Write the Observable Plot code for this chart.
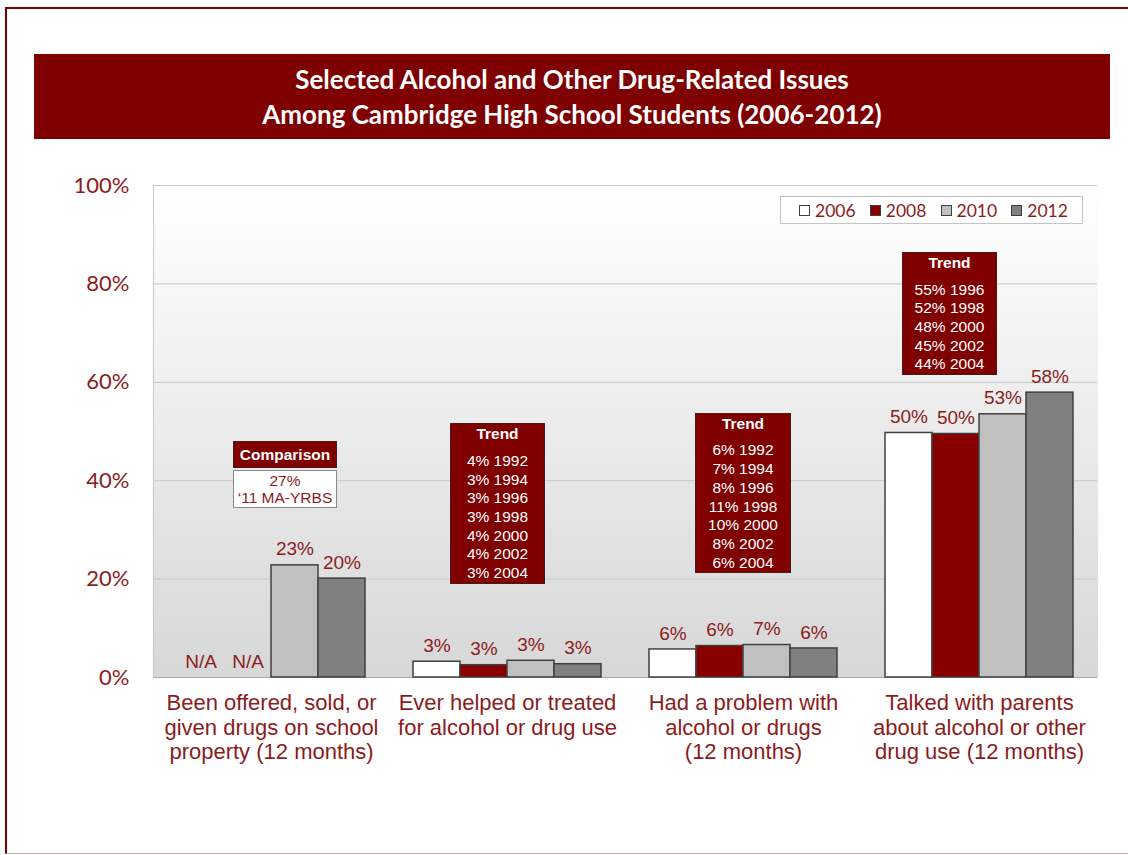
<!DOCTYPE html>
<html>
<head>
<meta charset="utf-8">
<script src="https://cdn.jsdelivr.net/npm/d3@7"></script>
<script src="https://cdn.jsdelivr.net/npm/@observablehq/plot@0.6"></script>
<style>
  html, body { margin: 0; padding: 0; background: #ffffff; }
  #page { position: relative; width: 1128px; height: 855px; overflow: hidden; background: #ffffff; }
  #frame { position: absolute; left: 5px; top: 7px; width: 1140px; height: 847px;
           border-left: 2px solid #7f0000; border-top: 2px solid #7f0000; border-bottom: 1px solid #e3a9a9; box-sizing: border-box; }
  #title { position: absolute; left: 34px; top: 54px; width: 1076px; height: 85px; background: #7f0000;
           color: #ffffff; font-family: Lato, "Open Sans", sans-serif; font-weight: 700; font-size: 26px;
           line-height: 35px; text-align: center; display: flex; flex-direction: column; justify-content: center; }
  #chart { position: absolute; left: 0; top: 165px; }
  #legend { position: absolute; left: 780px; top: 196px; width: 303px; height: 28px; box-sizing: border-box;
            background: #ffffff; border: 1px solid #c4c4c4; display: flex; align-items: center; padding-left: 18px; }
  .li { width: 72.7px; display: flex; align-items: center; font-family: Lato, sans-serif; font-size: 17.5px; color: #8c1c1c; }
  .sw { width: 11px; height: 11px; box-sizing: border-box; border: 1px solid #404040; margin-right: 5px; }
  .box { position: absolute; box-sizing: border-box; text-align: center; font-family: "Liberation Sans", Arial, sans-serif; font-size: 15.5px; }
  .trend { background: #800000; border: 1px solid #4a1a1a; color: #ffffff; line-height: 18.7px; padding: 1px 0 0 0; }
  .trend .hd { font-weight: 700; margin-bottom: 8px; }
  .cmpH { background: #800000; border: 1px solid #4a1a1a; color: #ffffff; font-weight: 700; line-height: 25px; }
  .cmpB { background: #ffffff; border: 1px solid #8a8a8a; color: #8c1c1c; line-height: 17px; padding-top: 1px; font-size: 15.5px; }
</style>
</head>
<body>
<div id="page">
  <div id="frame"></div>
  <div id="title"><div>Selected Alcohol and Other Drug-Related Issues</div><div>Among Cambridge High School Students (2006-2012)</div></div>
  <div id="chart"></div>
</div>
<script>
// ---------- data ----------
const groups = ["offered", "treated", "problem", "parents"];
const groupLabels = [
  "Been offered, sold, or\ngiven drugs on school\nproperty (12 months)",
  "Ever helped or treated\nfor alcohol or drug use",
  "Had a problem with\nalcohol or drugs\n(12 months)",
  "Talked with parents\nabout alcohol or other\ndrug use (12 months)"
];
const years = ["2006", "2008", "2010", "2012"];
const yearColors = ["#ffffff", "#880000", "#c0c0c0", "#808080"];

const values2006 = [null, 3.2, 5.7, 49.7];
const values2008 = [null, 2.5, 6.4, 49.5];
const values2010 = [22.8, 3.4, 6.6, 53.5];
const values2012 = [20.1, 2.7, 5.9, 57.9];

const labels2006 = ["N/A", "3%", "6%", "50%"];
const labels2008 = ["N/A", "3%", "6%", "50%"];
const labels2010 = ["23%", "3%", "7%", "53%"];
const labels2012 = ["20%", "3%", "6%", "58%"];

const yTicks = [0, 20, 40, 60, 80, 100];

// trend / comparison annotation texts
const comparisonLines = ["27%", "\u201811 MA-YRBS"];
const trendTreated = ["4% 1992", "3% 1994", "3% 1996", "3% 1998", "4% 2000", "4% 2002", "3% 2004"];
const trendProblem = ["6% 1992", "7% 1994", "8% 1996", "11% 1998", "10% 2000", "8% 2002", "6% 2004"];
const trendParents = ["55% 1996", "52% 1998", "48% 2000", "45% 2002", "44% 2004"];

// ---------- build table ----------
const seriesValues = [values2006, values2008, values2010, values2012];
const seriesLabels = [labels2006, labels2008, labels2010, labels2012];
const rows = [];
groups.forEach((g, gi) => {
  years.forEach((yr, yi) => {
    rows.push({group: g, year: yr, value: seriesValues[yi][gi], label: seriesLabels[yi][gi]});
  });
});
const labelOf = new Map(groups.map((g, i) => [g, groupLabels[i]]));
const red = "#8c1c1c";

const plot = Plot.plot({
  width: 1128,
  height: 612,
  marginLeft: 152,
  marginRight: 31,
  marginTop: 20,
  marginBottom: 100,
  style: {background: "transparent", overflow: "visible"},
  fx: {domain: groups, padding: 0, label: null},
  x: {domain: years, paddingInner: 0, paddingOuter: 0.51, axis: null},
  y: {domain: [0, 100], label: null},
  color: {domain: years, range: yearColors},
  marks: [
    Plot.frame({fill: "url(#bgGrad)", stroke: null, insetLeft: -0.6, insetRight: -0.6}),
    Plot.gridY([20, 40, 60, 80, 100], {stroke: "#c8c8c8", strokeOpacity: 1, strokeWidth: 1}),
    Plot.ruleY([0], {stroke: "#a8a8a8", strokeWidth: 1}),
    Plot.barY(rows.filter(d => d.value != null), {
      fx: "group", x: "year", y: "value", fill: "year", stroke: "#404040", strokeWidth: 1.5, inset: 0
    }),
    Plot.text(rows, {
      fx: "group", x: "year", y: d => d.value ?? 0, text: "label", dy: -16,
      fill: red, fontSize: 19, fontFamily: "Liberation Sans, Arial, sans-serif", lineAnchor: "middle"
    }),
    Plot.axisY({
      ticks: yTicks, tickFormat: d => d + "%", tickSize: 0, tickPadding: 24,
      fontSize: 22, fontFamily: "Lato, sans-serif", color: red, label: null
    }),
    Plot.axisFx({
      anchor: "bottom", tickSize: 0, tickPadding: 15, tickFormat: g => labelOf.get(g),
      fontSize: 22, lineHeight: 1.12, fontFamily: "Liberation Sans, Arial, sans-serif", color: red, label: null
    })
  ]
});

// gradient for plot background
const svg = d3.select(plot);
const defs = svg.insert("defs", ":first-child");
const grad = defs.append("linearGradient").attr("id", "bgGrad").attr("x1", 0).attr("y1", 0).attr("x2", 0).attr("y2", 1);
grad.append("stop").attr("offset", "0%").attr("stop-color", "#ffffff");
grad.append("stop").attr("offset", "100%").attr("stop-color", "#d7d7d7");

document.getElementById("chart").appendChild(plot);

// scales for positioning overlays
const fx = plot.scale("fx");
const ys = plot.scale("y");
const chartTop = 165;
const bandStart = g => fx.apply(g);
const yPix = v => ys.apply(v);

// left border line of plot area
svg.append("line")
  .attr("x1", bandStart(groups[0]) + 0.5).attr("x2", bandStart(groups[0]) + 0.5)
  .attr("y1", yPix(100)).attr("y2", yPix(0))
  .attr("stroke", "#c8c8c8").attr("stroke-width", 1);

const page = document.getElementById("page");

// legend
const legend = document.createElement("div");
legend.id = "legend";
years.forEach((yr, i) => {
  const item = document.createElement("div");
  item.className = "li";
  item.innerHTML = `<span class="sw" style="background:${yearColors[i]}"></span><span>${yr}</span>`;
  legend.appendChild(item);
});
page.appendChild(legend);

// annotation boxes
function trendBox(group, offset, topValue, width, lines) {
  const d = document.createElement("div");
  d.className = "box trend";
  d.style.left = (bandStart(group) + offset) + "px";
  d.style.top = (chartTop + yPix(topValue)) + "px";
  d.style.width = width + "px";
  d.innerHTML = `<div class="hd">Trend</div>` + lines.map(l => `<div>${l}</div>`).join("");
  page.appendChild(d);
}
trendBox(groups[1], 61, 51.6, 95, trendTreated);
trendBox(groups[2], 70, 53.7, 96, trendProblem);
trendBox(groups[3], 41, 86.4, 95, trendParents);

// comparison box
const cmpLeft = bandStart(groups[0]) + 80;
const cmpTop = chartTop + yPix(48);
const h = document.createElement("div");
h.className = "box cmpH";
h.style.left = cmpLeft + "px"; h.style.top = cmpTop + "px"; h.style.width = "104px"; h.style.height = "27px";
h.textContent = "Comparison";
page.appendChild(h);
const b = document.createElement("div");
b.className = "box cmpB";
b.style.left = cmpLeft + "px"; b.style.top = (cmpTop + 29) + "px"; b.style.width = "104px"; b.style.height = "38px";
b.innerHTML = comparisonLines.map(l => `<div>${l}</div>`).join("");
page.appendChild(b);
</script>
</body>
</html>
